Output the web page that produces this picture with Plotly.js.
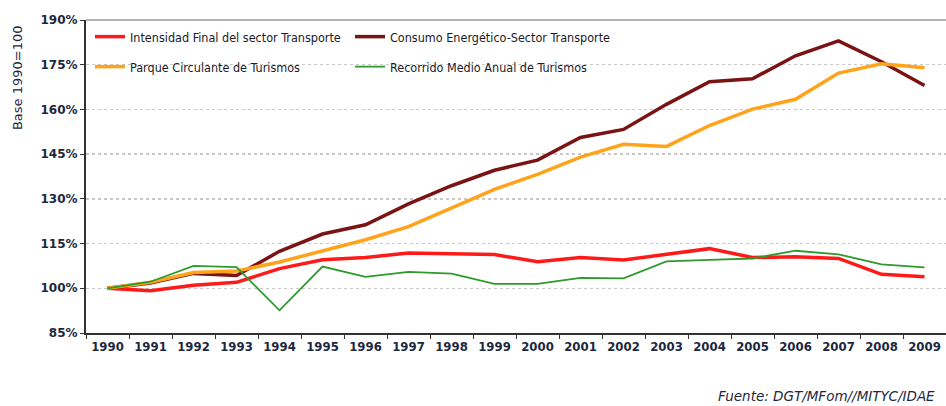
<!DOCTYPE html>
<html>
<head>
<meta charset="utf-8">
<script src="https://cdn.plot.ly/plotly-3.0.1.min.js"></script>
<style>html,body{margin:0;padding:0;background:#fff;}#chart{width:946px;height:406px;}</style>
</head>
<body>
<div id="chart"></div>
<script>
var years = ['1990','1991','1992','1993','1994','1995','1996','1997','1998','1999','2000','2001','2002','2003','2004','2005','2006','2007','2008','2009'];
var intensidad = [100, 99.2, 101, 102, 106.6, 109.6, 110.3, 111.8, 111.6, 111.3, 108.9, 110.3, 109.5, 111.5, 113.3, 110.3, 110.6, 110.0, 104.7, 103.9];
var consumo = [100, 101.8, 105, 104.3, 112.4, 118.2, 121.3, 128.3, 134.4, 139.6, 143.0, 150.6, 153.3, 161.7, 169.3, 170.3, 178.0, 183.0, 176.0, 168.0];
var parque = [100, 102, 105.3, 105.8, 108.8, 112.5, 116.3, 120.7, 126.8, 133.2, 138.2, 144.0, 148.3, 147.6, 154.6, 160.1, 163.4, 172.2, 175.3, 174.0];
var recorrido = [100, 102.2, 107.5, 107.1, 92.6, 107.3, 103.8, 105.5, 104.9, 101.5, 101.5, 103.5, 103.3, 109.0, 109.5, 110.0, 112.6, 111.4, 108.0, 107.0];
var yTicks = [85, 100, 115, 130, 145, 160, 175, 190];
var yTickText = yTicks.map(function (v) { return v + '%'; });

var navy = '#1c2840';
var cond = 'DejaVu Sans Condensed, sans-serif';

var traces = [
  {x: years, y: intensidad, name: 'Intensidad Final del sector Transporte', type: 'scatter', mode: 'lines',
   line: {color: '#ff1a1a', width: 3.5}, legend: 'legend'},
  {x: years, y: consumo, name: 'Consumo Energético-Sector Transporte', type: 'scatter', mode: 'lines',
   line: {color: '#7a1414', width: 3.5}, legend: 'legend2'},
  {x: years, y: parque, name: 'Parque Circulante de Turismos', type: 'scatter', mode: 'lines',
   line: {color: '#ffa31a', width: 3.5}, legend: 'legend3'},
  {x: years, y: recorrido, name: 'Recorrido Medio Anual de Turismos', type: 'scatter', mode: 'lines',
   line: {color: '#2e9a2e', width: 1.8}, legend: 'legend4'}
];

function mkLegend(xpx, ypx) {
  return {
    orientation: 'v', xref: 'paper', yref: 'paper',
    x: (xpx - 86) / 860, xanchor: 'left',
    y: 1 - (ypx - 20) / 313, yanchor: 'middle',
    bgcolor: 'rgba(0,0,0,0)',
    font: {family: cond, size: 12.5, color: '#1a1a2a'}
  };
}

var layout = {
  width: 946, height: 406,
  margin: {l: 86, r: 0, t: 20, b: 73},
  paper_bgcolor: '#ffffff', plot_bgcolor: '#ffffff',
  showlegend: true,
  legend: mkLegend(90, 37),
  legend2: mkLegend(350, 37),
  legend3: mkLegend(90, 67),
  legend4: mkLegend(350, 67),
  xaxis: {
    type: 'category', range: [-0.5, 19.5], tickson: 'boundaries',
    ticks: 'outside', ticklen: 4, tickcolor: '#333', tickwidth: 1,
    showline: true, linecolor: '#333', linewidth: 2, showgrid: false, zeroline: false,
    tickfont: {family: cond, size: 13, color: navy, weight: 'bold'}
  },
  yaxis: {
    range: [85, 190], tickmode: 'array', tickvals: yTicks, ticktext: yTickText,
    ticks: 'outside', ticklen: 4, tickcolor: '#333',
    showline: true, linecolor: '#333', linewidth: 2, zeroline: false,
    showgrid: true, gridcolor: '#c8c8c8', gridwidth: 1.5, griddash: 'dot',
    tickfont: {family: 'DejaVu Sans, sans-serif', size: 12, color: navy, weight: 'bold'}
  },
  shapes: [
    {type: 'line', xref: 'paper', yref: 'paper', x0: 0, x1: 1, y0: 1, y1: 1,
     line: {color: '#b4b4b4', width: 2}}
  ],
  annotations: [
    {text: 'Base 1990=100', xref: 'paper', yref: 'paper', x: -0.079, y: 1 - 58/313,
     xanchor: 'center', yanchor: 'middle', textangle: -90, showarrow: false,
     font: {family: 'DejaVu Sans, sans-serif', size: 13, color: navy}},
    {text: 'Fuente: DGT/MFom//MITYC/IDAE', xref: 'paper', yref: 'paper', x: 0.99, y: -(396 - 333) / 313,
     xanchor: 'right', yanchor: 'middle', showarrow: false,
     font: {family: 'DejaVu Sans, sans-serif', size: 13.5, color: navy, style: 'italic'}}
  ]
};

Plotly.newPlot('chart', traces, layout, {displayModeBar: false, staticPlot: true});
</script>
</body>
</html>
